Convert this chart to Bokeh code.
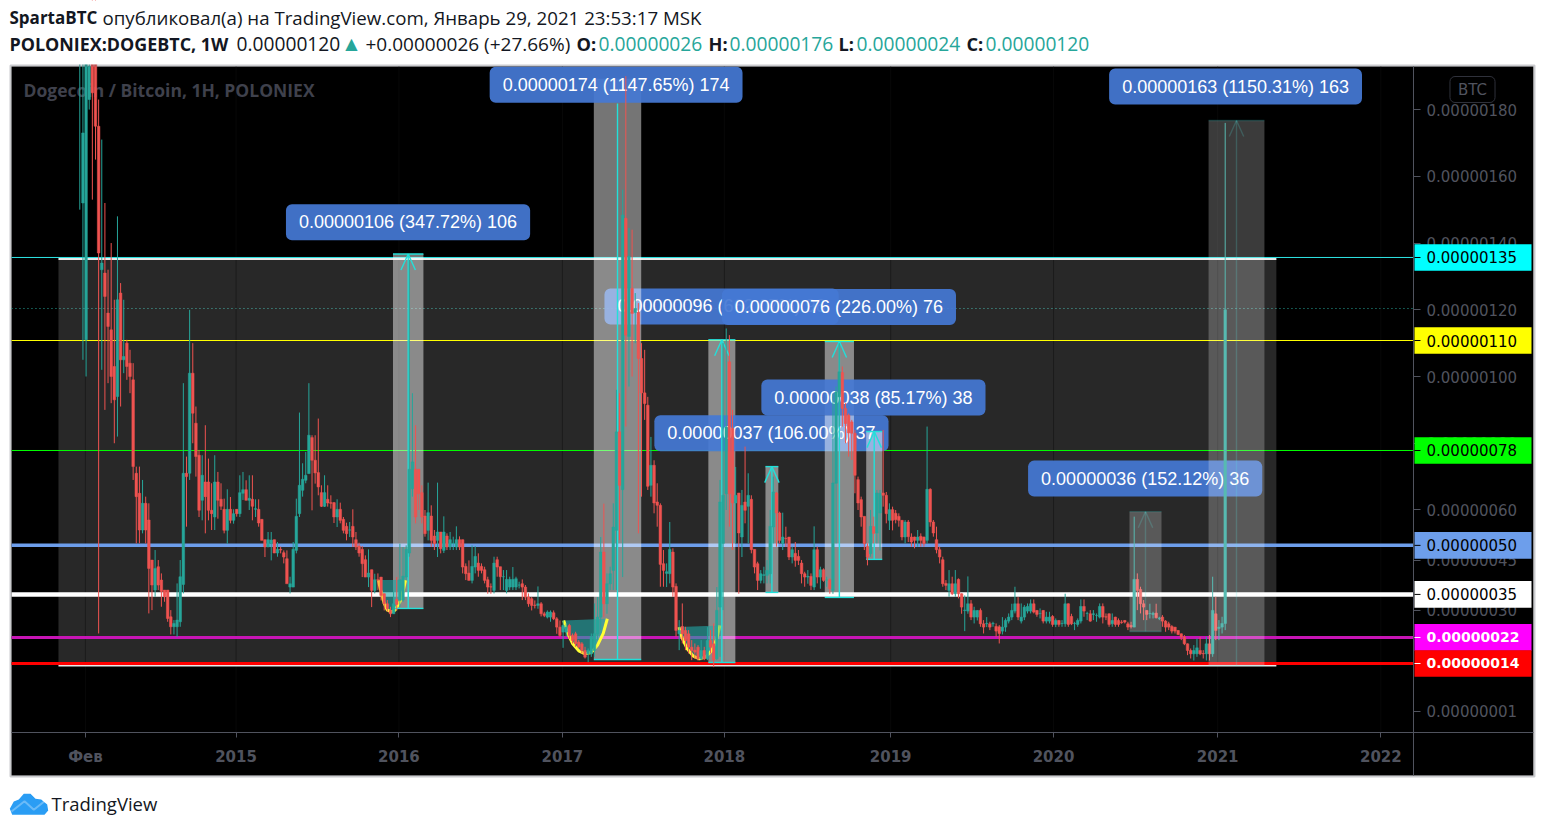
from bokeh.plotting import figure
from bokeh.embed import file_html
from bokeh.resources import INLINE
from bokeh.models import Label, BoxAnnotation, PolyAnnotation, FixedTicker, ColumnDataSource
from bokeh.core.properties import value

# Weekly candles of POLONIEX:DOGEBTC, in satoshi (1e-8 BTC)
opens = [
 195,152,111,183,205,210,175,132,131,119,
 114,103,94,125,105,110,104,99,71,65,
 54,62,57,45,36,43,39,36,36,28,
 25,25,26.5,37.7,71,71,101,86,76.4,62.9,
 68.4,68.4,59.9,57.9,68.4,63.2,60.2,53.9,60.2,56.9,
 60.2,58.9,65,66.1,62.9,63.2,60.2,60.2,57.2,51.1,
 48.9,50,51.1,47.1,48.2,47.2,45.4,36.9,36.9,47.9,
 58.9,65.9,68.9,70.9,81.7,74.9,71.2,65.2,61.1,63.2,
 62.2,62.2,57.9,60.2,57.2,55.1,54,55.1,51.1,49.2,
 48.2,45.1,39.9,42.1,35.9,39.1,39.9,34.9,31.9,29.9,
 28.9,33.2,32.9,33,39.9,47.1,66.4,72.2,72.2,65.2,
 58.2,53.9,58.2,52.2,50.9,53.4,47.9,52.2,48.9,50,
 48.9,51.1,51.1,43.1,41.1,38.9,42.9,44.1,43.1,42.1,
 39.1,37,35.9,45.1,43,40,35.9,36.9,36.9,36.9,
 37.5,37.9,36.9,33.9,33.4,31.5,31.4,31.9,28.9,27.9,
 27.9,29.2,27.4,24.9,23.4,23.4,25.4,22.4,22.9,20.4,
 19.9,17.9,16.9,16.9,17.9,22.9,27.9,47.4,31.9,37.9,
 41.9,53.9,83.4,66.1,147.4,112,126.4,119.2,119.2,105.4,
 95.1,91.4,67.4,73.4,62.4,61.4,43.9,41,40.9,47.4,
 37.1,22.9,25.1,23.9,22.9,18.9,18,18.9,15.4,17.9,
 15.4,20.9,19.9,15.4,30.9,50,64.9,104.4,84.4,62.1,
 65.1,51.9,62.4,61.1,63.2,48.2,43.9,38.9,40.4,40.4,
 40.9,54.9,65.1,59.1,50,51.5,51.9,45.9,47,46.1,
 44.1,40.9,39.9,40.1,36.9,48.1,39.9,42.1,39,39.1,
 35.9,68,93.9,101.2,90.4,88.4,86.4,83,69.1,63.1,
 58.1,49.1,46.9,55,53.1,59.1,65.1,64.4,56.9,60.1,
 59,58.1,56.9,51.9,56.4,51.9,51.9,50.9,52.1,51.9,
 50.9,66.2,56.4,51.1,48.1,45.1,38,35.9,37.9,34.9,
 39.2,34.9,29.9,29.7,31.9,27.9,27.9,29.9,25.9,25.9,
 25.9,25.9,25.1,25,23.7,24.9,26.7,27.9,29.7,31.9,
 26.7,27.9,29.7,29.7,31.9,29.9,29,29.9,26.7,26.7,
 28.1,25.7,26.9,26,25.9,31.9,28.1,26,25.7,26.7,
 31.1,29,28.9,28.7,28.4,27.9,31.1,28,28.9,25.9,
 27.9,26.9,26.4,26.9,25.9,25.4,24.9,39.2,36.2,31.9,
 29.9,29,28.7,29.1,27.5,27.9,26.7,25.9,25.1,24.9,
 23.9,22.9,21.9,19.9,17.9,16.9,16.9,17.9,17,16.9,
 19.9,16.9,28.9,24.5,24.9,26]
highs = [
 210,205,210,200,215,215,183,171,152,132,
 140,123,148,128,123,111,108,104,73,73,
 69,64,62,45,48,45,41,36,36,30,
 27,38,45,98,76,120,110,91,78,76.4,
 85.4,75.4,68,76.4,71.4,68,63.4,66.2,63.9,60.2,
 60.2,70.4,71.4,68.9,70.4,70.4,63.2,63.2,57.2,51.1,
 53.4,53.4,51.1,50.4,49,47.9,47.9,40,50.4,63.4,
 89.2,74,77.4,98,82.4,82.4,87.4,67.4,70.4,67.4,
 64.4,62.4,63.2,62.2,57.9,56.2,56.4,60.2,53.4,50.2,
 49.2,46.4,48.2,42.1,40.9,41,39.9,35,33,31,
 35.9,39.9,49.9,48.9,49.4,135,95,85.4,72.2,67.4,
 60,68.2,61.4,54,68.2,53.4,58.1,53,53.4,52,
 55.1,52.1,51.1,44,44.9,49.4,49.2,47,44,43,
 40,38,46,46,43,42,42,40,42.9,40,
 38.5,39.2,37.5,35,33.9,32.9,37.1,32.4,29.5,29.9,
 29.9,29.9,27.9,26.9,26.9,26,25.9,23,23.5,21,
 20.4,19,18.5,23,32,33.9,51.9,61.9,41,43,
 62,96,95,156,190,144.5,144,125,122,110,
 108,93.9,81.9,74.9,68,62,48,44,56.4,48.5,
 38,27,32,25,24,21,20,19.5,21,19,
 24.9,24,26,36.9,69,110,114.4,112.4,90,72.9,
 65.1,66,79,71,64.4,48.2,44.5,42,43,45,
 60,70,65.4,59.5,59.2,55,51.9,49,50.4,48,
 45,41.5,42,41,55.1,49,43,42.5,40,39.5,
 94.9,97,110,103,92,88.9,87,84,70,64,
 58,50,60,58,66,66,84,65.4,62,61,
 60,59,57,57,57,53,52,54,53,52,
 85,66.5,57,55,49,46,39,42,40,42,
 39.5,35,34.4,40.1,33,31,30,30.5,27,27.9,
 26.5,26.5,26,25.5,27.9,27.5,29,31.9,37,33.9,
 32,31.5,32,33.2,33.2,30,30.5,30,29.5,29.5,
 28.5,27.5,27,27,34.9,32,28.9,26.5,27.5,33.2,
 33.2,29.5,30,30,29,32,32,29,29,29,
 28,27.5,27,27,26.5,26.5,58,41,37,33,
 30,31.9,29.5,31.9,28,28.5,27,26.5,25.5,24.9,
 24,23,22.5,20,18.5,19.5,21.5,21.9,18,22,
 22.5,40,34,27,28,176]
lows = [
 150,105,100,180,153,165,23,102,90,98,
 92,80,82,91,101,99,95,69,50,50,
 53,50,29,30,34,36,31,32.5,26.5,22.7,
 22.7,22,25,35,55,69,80,70,57.9,56.9,
 53,56.9,54,54,57.4,60,53,49.9,56,55.9,
 58,57.9,63,62.9,60,56.9,57.9,55,50.9,45.9,
 48.9,44.9,47.1,46,47,44,38.9,35,36.9,47,
 57.9,64,68,70.9,59.9,67.9,64.4,60.9,60.9,61,
 60.4,56.1,54.9,56,53,50.9,51.9,48.9,48,46,
 39.9,39.9,36.9,30.9,35,36,32.9,29.9,29.5,27.9,
 28.9,29.9,31,32.5,38.9,46,64,56,60,56,
 52,50.9,48.9,48,45.9,47,47.1,48,48,48,
 48,48,41,39,38.9,38,41,40,41,38,
 34.9,34.9,35,40,36,36,35,36,36,36,
 36.5,33,33,31,29.9,30.5,30.4,28.1,27.9,27.5,
 26.5,27,22.9,21.9,18.7,22,21.4,20,19,18.5,
 17,15.5,14.4,16,16,21,24,28,28.9,36,
 36,36,51,39.9,85,97,100,110,53,64,
 87,66,64,59,55,37,37,36.9,38,34,
 22,18,20,18,17,15,15.4,14.9,15,15,
 15,17,12.9,15,16,30,60,55,48,50,
 34.9,45.9,56,50,47,41,36,38,38,38,
 38,50,49,50,48,48.9,45,44,43,43.5,
 38,37,37.9,36,36,38,36.4,38.5,37,34.9,
 34.9,50,85,85,80,76,75,65,60,55,
 48,43.4,46,50,50,47.9,61,56,54,53.9,
 56,55,50.9,50,50.4,49,48.5,49,49,49,
 49.9,55,52,47,44,37,36,34,34.5,34,
 33.5,28.9,23.7,28.9,27,26,26.9,25,23,24.9,
 24,25,22,20,22.7,23.5,26,27,29,27,
 26,27,29,29,29,28,27.5,26,26,26,
 25,24.9,25,25,25,25,25.5,24,25,26,
 28,27,26.5,27,26.5,27.5,26,27,25,25,
 25,25,25.9,26,24,24.5,24.9,30,29,27,
 27,27.5,27.5,27.5,27,25,23.5,24,23,23,
 22.5,21,19.5,16.5,15.5,14.9,16,16.5,15.5,14.9,
 14.9,16,21,21,23,24]
closes = [
 198,173,200,193,185,175,137,134,124,115,
 100,93,123,105,106,103,100,73,64,54,
 62,54,42.5,37.5,42.5,37.5,35.6,34,27.5,25,
 26,27,40,71,70,101,89,76,59.9,70.4,
 64,59.9,58.9,68.4,62.9,61.1,53.9,60.2,56.9,58.9,
 58.9,65.2,66.1,62.9,63.5,61.1,60.4,56.1,50.9,48.9,
 51.1,51,47.1,48.2,48,45.9,37.9,37.9,48.2,58.1,
 67.4,69.2,70.4,82.4,74.9,71.1,66.9,61.1,65.2,62.1,
 62,57.9,60.2,56.9,53.9,52.9,54,51.9,48.9,47.1,
 43.9,39.9,41.1,35.9,39.1,39,34.4,31.9,30.4,28.9,
 31.9,31.7,39.1,40.2,48.2,72.2,74.4,57.9,64.9,57.9,
 52.9,59.2,50.9,49.9,53.4,48.4,53.4,48.9,51.1,50,
 51.1,48.9,42.9,40.9,38.9,43.1,46.1,41.9,41.9,38.9,
 36.9,36.9,44.1,42.9,40,40,39.2,39.2,39.2,39.4,
 37.5,36.9,33.9,31.9,31.4,31.4,31.9,28.9,28.4,29.4,
 29.4,27.4,24.9,22.4,25.4,24.9,22.4,20.9,19.9,18.9,
 17.9,15.9,17.9,22,22.9,27.9,47.4,31.9,37.9,40.9,
 54.9,83.4,67.4,148.4,112.4,136,118.9,120.4,105.4,95.1,
 91.9,67.1,73.4,62.1,61.4,43.7,41.9,41.5,48.2,36.9,
 23.9,23.9,22.9,20.9,18.9,17.9,17.4,15.4,17.9,15.4,
 20.9,18.9,15.1,29.9,62.4,64.4,84.9,64.9,62.1,64.4,
 53.1,61.4,59.9,64.4,48.1,42.9,38.9,40.9,40.6,41.9,
 55.1,65.4,59.1,50.9,51.9,51.4,45.9,48.1,44.9,44.9,
 40.9,39.9,40.1,37.4,48.1,39.9,42.1,38.9,39,36.4,
 68.1,95.4,101.4,90.4,85.9,83.1,83,70.4,62.1,57.9,
 49.9,45.9,55.1,53,65.1,65,64.4,58.9,60.1,56.9,
 57.1,56.9,51.9,56.4,52,50.4,50.9,51.9,50.9,49.9,
 66.2,56.4,53.1,48.1,45.9,37.9,37.4,37.9,34.9,37.9,
 34.9,30.9,30,31.9,27.9,29.9,29.9,25.9,24.9,26,
 24.9,26,23.7,23,24.9,26.9,27.9,29.9,31.9,27.9,
 27.9,30.9,31.1,31.9,29.4,28.7,29,26.7,27.9,27.9,
 25.7,26.9,25.7,26,31.9,25.7,25.9,26,26.9,31.1,
 29.7,29,26.7,28.9,28.4,31.1,27.9,27.9,25.7,26.9,
 25.7,25.7,26.3,26.4,24.9,25,39.2,35.9,31.9,30.9,
 28.7,29,29,27.7,27.6,26.7,24.9,24.9,23.7,23.7,
 22.7,21.9,19.9,17.9,16.9,17.9,18.7,16.9,16.9,19.9,
 16.9,29.9,23.9,24.9,26,120]
assert len(opens) == len(highs) == len(lows) == len(closes), (len(opens), len(highs), len(lows), len(closes))

x_tick_weeks = [1.8, 49.8, 101.7, 153.8, 205.4, 258.4, 310.3, 362.6, 414.6]
x_tick_labels = ["Фев", "2015", "2016", "2017", "2018", "2019", "2020", "2021", "2022"]
y_tick_values = [180, 160, 140, 120, 100, 80, 60, 45, 30, -0.38]
y_tick_labels = ["0.00000180", "0.00000160", "0.00000140", "0.00000120", "0.00000100",
                 "0.00000080", "0.00000060", "0.00000045", "0.00000030", "0.00000001"]

# Horizontal levels
level_values = [135.67, 110.79, 77.83, 49.4, 34.7, 21.8, 14.0]
level_labels = ["0.00000135", "0.00000110", "0.00000078", "0.00000050", "0.00000035", "0.00000022", "0.00000014"]
level_colors = ["#2fe6e6", "#ffff00", "#00ff00", "#6d9eeb", "#ffffff", "#c715b5", "#ff0000"]
level_widths = [1, 1, 1, 3.5, 4.5, 3, 3]
badge_colors = ["#00ffff", "#ffff00", "#00ff00", "#6d9eeb", "#ffffff", "#ff00ff", "#ff0000"]
badge_text = ["#000000", "#000000", "#000000", "#000000", "#000000", "#ffffff", "#ffffff"]

# Measured moves: week range and price range of each tool
r_left = [99.8, 163.8, 200.3, 218.5, 237.4, 250.6, 334.5, 359.7]
r_right = [109.5, 178.9, 208.9, 222.6, 246.7, 255.7, 344.7, 377.5]
r_low = [30.5, 15.2, 14.3, 35.3, 33.8, 45.2, 23.6, 13.4]
r_high = [136.7, 189.2, 111.0, 73.0, 110.5, 83.5, 59.5, 176.7]
r_line_top = [136.7, 181.8, 111.0, 73.0, 110.5, 83.5, 59.5, 176.7]
r_arrow = [True, False, True, True, True, True, True, True]
r_line_alpha = [1, 1, 1, 1, 1, 1, 0.2, 0.2]

tag_texts = ["0.00000096 (662.07%) 96", "0.00000037 (106.00%) 37", "0.00000038 (85.17%) 38",
             "0.00000076 (226.00%) 76", "0.00000174 (1147.65%) 174", "0.00000106 (347.72%) 106",
             "0.00000163 (1150.31%) 163", "0.00000036 (152.12%) 36"]
tag_week = [204.5, 220.4, 252.9, 241.9, 170.9, 104.6, 368.3, 339.5]
tag_price = [121.0, 83.0, 93.7, 120.8, 187.4, 146.2, 186.9, 69.4]

# Rounded-bottom patterns
cup1_w = [95.1, 96, 97, 98, 99.3, 100.5, 102, 103, 103.8]
cup1_p = [39, 35.5, 32, 30, 29.5, 30, 32.5, 35.5, 39]
cup2_w = [154.2, 155.5, 157, 159, 161, 163, 165, 166.8, 168.1]
cup2_p = [26.9, 23, 20, 17.8, 16.9, 17.3, 19.5, 23, 27.4]
cup3_w = [190.9, 192, 193.5, 195.5, 197.5, 199.5, 201.5, 203, 204]
cup3_p = [24.9, 21.5, 18.5, 16.2, 15.4, 16, 18, 21.5, 25.4]

backdrop = dict(left=-6.8, right=381.3, bottom=13.4, top=135.2)
last_price = 120.38

DARK = "#131722"
TEAL = "#26a69a"
header_top = [("SpartaBTC", 9, "bold", DARK, "17px"),
              ("опубликовал(а) на TradingView.com, Январь 29, 2021 23:53:17 MSK", 102, "normal", DARK, "18.7px")]
header_bottom = [("POLONIEX:DOGEBTC, 1W", 9, "bold", DARK, "17.9px"), ("0.00000120", 236, "normal", DARK, "19.2px"),
                 ("+0.00000026 (+27.66%)", 365, "normal", DARK, "19px"), ("O:", 576, "bold", DARK, "18.2px"),
                 ("0.00000026", 598, "normal", TEAL, "19.2px"), ("H:", 708, "bold", DARK, "18.2px"),
                 ("0.00000176", 729, "normal", TEAL, "19.2px"), ("L:", 838, "bold", DARK, "18.2px"),
                 ("0.00000024", 856, "normal", TEAL, "19.2px"), ("C:", 966, "bold", DARK, "18.2px"),
                 ("0.00000120", 985, "normal", TEAL, "19.2px")]

logo_x = [9.3, 13.3, 18.3, 23.3, 30, 35, 40.7, 46.7, 47.7, 44, 11.7]
logo_y = [808.3, 801, 799, 793.3, 793.3, 798.3, 799, 804, 810, 814.3, 814.3]
logo_line_x = [11, 24, 33.3, 45, 33.3, 24]
logo_line_y = [811, 800.7, 809.3, 800, 809.3, 800.7]

PAGE_W, PAGE_H = 1536, 823
UI_FONT = "Open Sans"
AXIS_FONT = "DejaVu Sans"
TAG_FONT = "Liberation Sans"
GRID = "#50535e"


def sy(py):
    return PAGE_H - py


WEEK_L, WEEK_AXIS, WEEK_R = -21.77, 425.0, 463.2
P_AXIS, P_TOP, P_BOT = -6.68, 192.9, -19.56

p = figure(width=PAGE_W, height=PAGE_H, output_backend="svg", toolbar_location=None,
           x_range=(-25.27, 464.2), y_range=(-33.95, 212.68), y_axis_location="right",
           background_fill_color="#ffffff", border_fill_color="#ffffff", outline_line_color=None,
           min_border=0, min_border_left=0, min_border_top=0, min_border_right=0, min_border_bottom=0)

p.xaxis.ticker = FixedTicker(ticks=x_tick_weeks)
p.xaxis.major_label_overrides = dict(zip(x_tick_weeks, x_tick_labels))
p.yaxis.ticker = FixedTicker(ticks=y_tick_values)
p.yaxis.major_label_overrides = dict(zip(y_tick_values, y_tick_labels))
for ax in (p.xaxis[0], p.yaxis[0]):
    ax.axis_line_color = GRID
    ax.major_tick_line_color = GRID
    ax.minor_tick_line_color = None
    ax.major_tick_in = 0
    ax.major_label_text_color = GRID
    ax.major_label_text_font = AXIS_FONT
    ax.major_label_text_font_size = "15px"
p.yaxis.fixed_location = WEEK_AXIS
p.xaxis.fixed_location = P_AXIS
p.yaxis.bounds = (P_BOT, P_TOP)
p.xaxis.bounds = (WEEK_L, WEEK_R)
p.yaxis.major_tick_out = 7
p.yaxis.major_label_standoff = 6
p.xaxis.major_tick_out = 5
p.xaxis.major_label_standoff = 10
p.xaxis.major_label_text_font_style = "bold"
p.xgrid.grid_line_color = None
p.ygrid.grid_line_color = None

# black pane, range backdrop, faint year lines, levels (bottom of the stack)
p.quad(left=[WEEK_L], right=[WEEK_R], top=[P_TOP], bottom=[P_BOT], fill_color="#000000", line_color=None, level="image")
p.line([WEEK_L, WEEK_AXIS], [last_price, last_price], line_color=TEAL, line_width=1, line_dash="1 3", level="image")
p.quad(left=[backdrop["left"]], right=[backdrop["right"]], top=[backdrop["top"]], bottom=[backdrop["bottom"]],
       fill_color="#ffffff", fill_alpha=0.157, line_color=None, level="image")
p.segment(x0=x_tick_weeks, x1=x_tick_weeks, y0=[P_AXIS] * len(x_tick_weeks), y1=[P_TOP] * len(x_tick_weeks),
          line_color="#0f0f0f", line_alpha=0.5, line_width=1, level="image")
p.segment(x0=[backdrop["left"]] * 2, x1=[backdrop["right"]] * 2, y0=[backdrop["top"], backdrop["bottom"]],
          y1=[backdrop["top"], backdrop["bottom"]], line_color="#e8e8e8", line_width=2, level="image")
p.segment(x0=[WEEK_L] * len(level_values), x1=[WEEK_AXIS] * len(level_values), y0=level_values, y1=level_values,
          line_color=level_colors, line_width=level_widths, level="image")

# watermark
p.add_layout(Label(x=23, y=sy(89), x_units="screen", y_units="screen", text="Dogecoin / Bitcoin, 1H, POLONIEX",
                   text_font=UI_FONT, text_font_size="17.5px", text_font_style="bold", text_color="#3f414c",
                   text_baseline="middle", level="underlay"))


def box(i, alpha=0.46, level="underlay"):
    return BoxAnnotation(left=r_left[i], right=r_right[i], top=r_high[i], bottom=r_low[i],
                         fill_color="#ffffff", fill_alpha=alpha, line_color=None, level=level)


def tag(i):
    return Label(x=tag_week[i], y=tag_price[i], text=tag_texts[i], text_font=TAG_FONT, text_font_size="18px",
                 text_color="#ffffff", text_align="center", text_baseline="middle",
                 background_fill_color="#4579d4", background_fill_alpha=0.93,
                 padding=(13, 8), border_radius=6, level="underlay")


p.add_layout(tag(0))
for i in (0, 1, 2, 3):
    p.add_layout(box(i))
p.add_layout(tag(1))
p.add_layout(box(4))
p.add_layout(box(5))
for i in (2, 3, 4, 5, 7, 6):
    p.add_layout(tag(i))

# rounded bottoms
for w, v in ((cup1_w, cup1_p), (cup2_w, cup2_p), (cup3_w, cup3_p)):
    p.patch(w, v, fill_color="#1fa6a6", fill_alpha=0.6, line_color=None)
    p.line(w, v, line_color="#ffff33", line_width=3)

# measured-move lines
seg = dict(x0=[], y0=[], x1=[], y1=[], a=[])
for l, r, lo, hi, t, ar, a in zip(r_left, r_right, r_low, r_high, r_line_top, r_arrow, r_line_alpha):
    c = (l + r) / 2
    seg["x0"] += [c, l]
    seg["y0"] += [lo, lo]
    seg["x1"] += [c, r]
    seg["y1"] += [t, lo]
    seg["a"] += [a, a]
    if ar:
        seg["x0"] += [l, c, c]
        seg["y0"] += [hi, hi, hi]
        seg["x1"] += [r, c - 2.3, c + 2.3]
        seg["y1"] += [hi, hi - 4.8, hi - 4.8]
        seg["a"] += [a, a, a]
p.segment("x0", "y0", "x1", "y1", source=ColumnDataSource(seg), line_color="#22e0da", line_alpha="a", line_width=1.4)

# candles
weeks = list(range(len(opens)))
cols = [TEAL if c >= o else "#ef5350" for o, c in zip(opens, closes)]
src = ColumnDataSource(dict(x=weeks, o=opens, h=highs, l=lows, c=closes, col=cols,
                            top=[max(o, c) for o, c in zip(opens, closes)],
                            bot=[min(o, c) for o, c in zip(opens, closes)]))
p.segment("x", "h", "x", "l", source=src, line_color="col", line_width=1)
p.vbar(x="x", width=0.82, top="top", bottom="bot", source=src, fill_color="col", line_color="col", line_width=0.5)

# light measured moves drawn over the candles
p.add_layout(box(6, 0.23, "annotation"))
p.add_layout(box(7, 0.23, "annotation"))

# price badges
for v, lab, bc, tc in zip(level_values, level_labels, badge_colors, badge_text):
    p.add_layout(BoxAnnotation(left=1414, right=1531, top=v + 4.0, bottom=v - 4.0,
                               left_units="screen", right_units="screen",
                               fill_color=bc, fill_alpha=1, line_color=None, level="annotation"))
    p.add_layout(BoxAnnotation(left=1414, right=1420, top=v + 0.15, bottom=v - 0.15,
                               left_units="screen", right_units="screen",
                               fill_color=tc, fill_alpha=1, line_color=None, level="annotation"))
    white = tc == "#ffffff"
    p.add_layout(Label(x=1426, y=v, x_units="screen", text=lab, text_font=AXIS_FONT,
                       text_font_size="14px" if white else "15px", text_font_style="bold" if white else "normal",
                       text_color=tc, text_baseline="middle", level="annotation"))

# BTC button
p.add_layout(Label(x=1472, y=sy(89), x_units="screen", y_units="screen", text="BTC", text_font=AXIS_FONT,
                   text_font_size="15px", text_color=GRID, text_align="center", text_baseline="middle",
                   border_line_color="#2f313b", border_line_width=1, padding=(8, 4), border_radius=5,
                   level="annotation"))

# white header strip covers the wicks that leave the pane; then the frame
p.add_layout(BoxAnnotation(left=0, right=PAGE_W, top=sy(0), bottom=sy(64), left_units="screen", right_units="screen",
                           top_units="screen", bottom_units="screen", fill_color="#ffffff", fill_alpha=1,
                           line_color=None, level="annotation"))
p.add_layout(BoxAnnotation(left=10, right=1534, top=sy(65), bottom=sy(776), left_units="screen", right_units="screen",
                           top_units="screen", bottom_units="screen", fill_color=None, line_color=GRID, line_width=2,
                           level="annotation"))

# header
for row, py in ((header_top, 17), (header_bottom, 43)):
    for t, x, st, col, size in row:
        p.add_layout(Label(x=x, y=sy(py), x_units="screen", y_units="screen", text=t, text_font=UI_FONT,
                           text_font_size=size, text_font_style=st, text_color=col, text_baseline="middle"))
p.add_layout(Label(x=351, y=sy(43), x_units="screen", y_units="screen", text="▲", text_font="DejaVu Sans",
                   text_font_size="16px", text_color=TEAL, text_align="center", text_baseline="middle"))

# footer
p.add_layout(PolyAnnotation(xs=logo_x, ys=[sy(v) for v in logo_y], xs_units="screen", ys_units="screen",
                            fill_color="#2a9df4", fill_alpha=1, line_color=None, level="annotation"))
p.add_layout(PolyAnnotation(xs=logo_line_x, ys=[sy(v) for v in logo_line_y], xs_units="screen", ys_units="screen",
                            fill_color=None, line_color="#ffffff", line_width=2, level="annotation"))
p.add_layout(Label(x=51, y=sy(803), x_units="screen", y_units="screen", text="TradingView", text_font=UI_FONT,
                   text_font_size="18.5px", text_color=DARK, text_baseline="middle"))

open("out.html", "w").write(file_html(p, INLINE))
